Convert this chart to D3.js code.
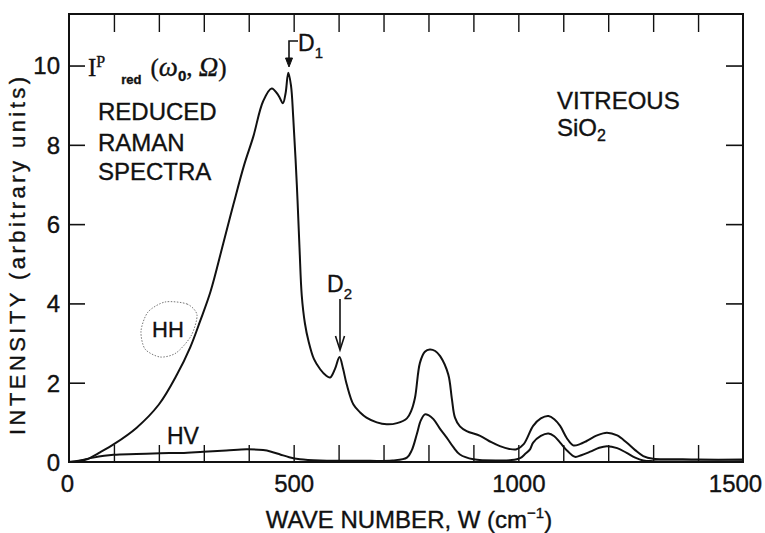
<!DOCTYPE html>
<html>
<head>
<meta charset="utf-8">
<script src="https://cdn.jsdelivr.net/npm/d3@7"></script>
<style>
  html, body { margin: 0; padding: 0; background: #fff; }
  svg { display: block; }
  text { font-family: "Liberation Sans", Arial, Helvetica, sans-serif; fill: #111; stroke: #111; stroke-width: 0.35; }
</style>
</head>
<body>
<svg id="chart" width="765" height="533"></svg>
<script>
// ---- data ----
const waveHH = [0,20,40,70,100,150,200,240,270,292,315,343,366,390,410,432,451,466,476,482,488,494,499,507,513,518,525,533,545,559,572,581,592,602,610,618,633,648,662,685,707,730,752,762,770,781,792,803,815,826,844,852,859,870,885,915,940,959,980,996,1012,1033,1050,1067,1080,1093,1108,1122,1137,1152,1175,1197,1220,1241,1260,1278,1300,1350,1400,1500];
const intensityHH = [0,0.02,0.07,0.25,0.45,0.86,1.45,2.2,2.9,3.56,4.3,5.5,6.5,7.5,8.2,9.1,9.42,9.25,9.05,9.3,9.82,9.5,8.7,7.0,5.4,4.2,3.5,3.05,2.6,2.34,2.18,2.13,2.35,2.65,2.35,1.96,1.45,1.25,1.12,1.0,0.95,0.98,1.1,1.3,1.62,2.5,2.78,2.84,2.8,2.67,2.21,1.6,1.12,0.9,0.78,0.66,0.5,0.4,0.33,0.32,0.45,0.91,1.1,1.16,1.08,0.91,0.6,0.42,0.45,0.53,0.67,0.74,0.67,0.49,0.3,0.15,0.08,0.07,0.06,0.06];

const waveHV = [0,25,54,99,150,203,250,299,350,395,432,450,470,490,514,559,650,720,752,763,774,783,792,800,811,825,841,855,870,900,959,985,1004,1015,1026,1033,1050,1067,1080,1093,1110,1126,1140,1160,1180,1197,1220,1241,1260,1278,1300,1500];
const intensityHV = [0,0.04,0.11,0.18,0.2,0.22,0.23,0.26,0.29,0.32,0.3,0.26,0.19,0.12,0.07,0.04,0.03,0.04,0.11,0.3,0.7,1.05,1.2,1.18,1.08,0.85,0.61,0.38,0.19,0.07,0.04,0.05,0.1,0.2,0.32,0.49,0.66,0.72,0.65,0.49,0.27,0.13,0.17,0.26,0.36,0.4,0.35,0.23,0.11,0.04,0.02,0.02];

const xTickLabels = [0, 500, 1000, 1500];
const xMinorTicks = [100,200,300,400,500,600,700,800,900,1000,1100,1200,1300,1400];
const yTickLabels = [0, 2, 4, 6, 8, 10];
const yInnerTicks = [2, 4, 6, 8, 10];
const xDomain = [0, 1500];
const yDomain = [0, 11.3];

// ---- drawing ----
const svg = d3.select("#chart");
const L = 69, R = 743, T = 14, B = 462;
const x = d3.scaleLinear().domain(xDomain).range([L, R]);
const y = d3.scaleLinear().domain(yDomain).range([B, T]);

const ink = "#111";

// frame
svg.append("rect").attr("x", L).attr("y", T).attr("width", R - L).attr("height", B - T)
  .attr("fill", "none").attr("stroke", ink).attr("stroke-width", 2);

// bottom ticks (inward), bottom labels
svg.append("g").attr("transform", `translate(0,${B})`)
  .call(d3.axisBottom(x).tickValues(xMinorTicks).tickSize(-17).tickFormat(""))
  .call(g => g.select(".domain").remove())
  .call(g => g.selectAll("line").attr("stroke", ink).attr("stroke-width", 1.4));
svg.append("g").attr("transform", `translate(0,${B})`)
  .call(d3.axisBottom(x).tickValues(xTickLabels).tickSize(0).tickPadding(13)
    .tickFormat(d3.format("d")))
  .call(g => g.select(".domain").remove())
  .call(g => g.selectAll("text").attr("font-size", 24).attr("fill", ink)
    .attr("font-family", "Liberation Sans, Arial, sans-serif")
    .attr("dx", d => d === 1500 ? -8 : (d === 0 ? -2 : 0)));

// top ticks (inward)
svg.append("g").attr("transform", `translate(0,${T})`)
  .call(d3.axisTop(x).tickValues(xMinorTicks).tickSize(-18).tickFormat(""))
  .call(g => g.select(".domain").remove())
  .call(g => g.selectAll("line").attr("stroke", ink).attr("stroke-width", 1.4));

// left ticks (inward) + labels
svg.append("g").attr("transform", `translate(${L},0)`)
  .call(d3.axisLeft(y).tickValues(yInnerTicks).tickSize(-16).tickFormat(""))
  .call(g => g.select(".domain").remove())
  .call(g => g.selectAll("line").attr("stroke", ink).attr("stroke-width", 1.6));
svg.append("g").attr("transform", `translate(${L},0)`)
  .call(d3.axisLeft(y).tickValues(yTickLabels).tickSize(0).tickPadding(9).tickFormat(d3.format("d")))
  .call(g => g.select(".domain").remove())
  .call(g => g.selectAll("text").attr("font-size", 24).attr("fill", ink)
    .attr("font-family", "Liberation Sans, Arial, sans-serif").attr("dy", "0.35em"));

// right ticks (inward)
svg.append("g").attr("transform", `translate(${R},0)`)
  .call(d3.axisRight(y).tickValues(yInnerTicks).tickSize(-17).tickFormat(""))
  .call(g => g.select(".domain").remove())
  .call(g => g.selectAll("line").attr("stroke", ink).attr("stroke-width", 1.6));

// axis titles
const xt = svg.append("text").attr("x", (L + R) / 2 + 3).attr("y", 528)
  .attr("text-anchor", "middle").attr("font-size", 24);
xt.append("tspan").text("WAVE NUMBER, W (cm");
xt.append("tspan").attr("font-size", 15).attr("dy", -10).text("\u22121");
xt.append("tspan").attr("dy", 10).text(")");

svg.append("text").attr("transform", "translate(25,256) rotate(-90)")
  .attr("text-anchor", "middle").attr("font-size", 22)
  .attr("textLength", 358).attr("lengthAdjust", "spacing")
  .text("INTENSITY (arbitrary units)");

// curves
const line = d3.line().x(d => x(d[0])).y(d => y(d[1])).curve(d3.curveCatmullRom.alpha(0.5));
const hh = waveHH.map((w, i) => [w, intensityHH[i]]);
const hv = waveHV.map((w, i) => [w, intensityHV[i]]);
svg.append("path").datum(hh).attr("d", line).attr("fill", "none")
  .attr("stroke", ink).attr("stroke-width", 2).attr("stroke-linejoin", "round");
svg.append("path").datum(hv).attr("d", line).attr("fill", "none")
  .attr("stroke", ink).attr("stroke-width", 2).attr("stroke-linejoin", "round");

// annotations
const t1 = svg.append("text").attr("x", 88).attr("y", 76).attr("font-size", 25);
t1.append("tspan").attr("font-family", "Liberation Serif, serif").text("I");
t1.append("tspan").attr("font-family", "Liberation Serif, serif").attr("font-size", 16).attr("dy", -9).text("P");
t1.append("tspan").attr("font-size", 13).attr("font-weight", "bold").attr("dx", 16).attr("dy", 17).text("red");
t1.append("tspan").attr("font-family", "Liberation Serif, serif").attr("dx", 9).attr("dy", -8).text("(");
t1.append("tspan").attr("font-family", "Liberation Serif, serif").attr("font-style", "italic").attr("font-size", 27).text("\u03C9");
t1.append("tspan").attr("font-size", 15).attr("font-weight", "bold").attr("dy", 5).text("0");
t1.append("tspan").attr("font-family", "Liberation Serif, serif").attr("dy", -5).text(", ");
t1.append("tspan").attr("font-family", "Liberation Serif, serif").attr("font-style", "italic").attr("font-size", 27).text("\u03A9");
t1.append("tspan").attr("font-family", "Liberation Serif, serif").text(")");

["REDUCED", "RAMAN", "SPECTRA"].forEach((s, i) => {
  svg.append("text").attr("x", 98).attr("y", [120, 151, 180][i]).attr("font-size", 24).text(s);
});

svg.append("text").attr("x", 557).attr("y", 109).attr("font-size", 24).text("VITREOUS");
const sio = svg.append("text").attr("x", 557).attr("y", 136).attr("font-size", 24);
sio.append("tspan").text("SiO");
sio.append("tspan").attr("font-size", 16).attr("dy", 5).text("2");

// D1 label and bracket arrow
const d1 = svg.append("text").attr("x", 298).attr("y", 51).attr("font-size", 23);
d1.append("tspan").text("D");
d1.append("tspan").attr("font-size", 15).attr("dy", 7).text("1");
svg.append("path").attr("d", "M298,41 L289,41 L289,60").attr("fill", "none")
  .attr("stroke", ink).attr("stroke-width", 1.6);
svg.append("path").attr("d", "M285.5,58 L292.5,58 L289,67 Z").attr("fill", ink).attr("stroke", ink).attr("stroke-width", 1);

// D2 label and arrow
const d2 = svg.append("text").attr("x", 327).attr("y", 292).attr("font-size", 23);
d2.append("tspan").text("D");
d2.append("tspan").attr("font-size", 15).attr("dy", 7).text("2");
svg.append("line").attr("x1", 340).attr("x2", 340).attr("y1", 299).attr("y2", 349)
  .attr("stroke", ink).attr("stroke-width", 1.6);
svg.append("path").attr("d", "M335.5,336 L340,350 L344.5,336").attr("fill", "none")
  .attr("stroke", ink).attr("stroke-width", 1.6);

// HH with dotted hand-drawn ring
svg.append("text").attr("x", 152).attr("y", 337).attr("font-size", 22).text("HH");
const ring = [[165,302],[187,304],[197,315],[191,336],[176,353],[160,357],[145,349],[141,331],[148,312]];
svg.append("path").attr("d", d3.line().curve(d3.curveCardinalClosed.tension(0.2))(ring))
  .attr("fill", "none").attr("stroke", "#777").attr("stroke-width", 1).attr("stroke-dasharray", "1.5,1.5");

svg.append("text").attr("x", 167).attr("y", 444).attr("font-size", 23).text("HV");
</script>
</body>
</html>
